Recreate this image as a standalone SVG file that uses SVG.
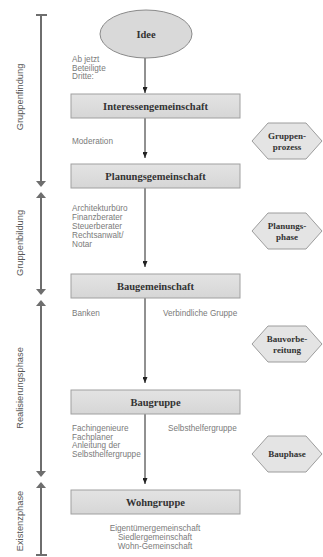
<svg xmlns="http://www.w3.org/2000/svg" width="323" height="557" viewBox="0 0 323 557">
<defs>
<style>
.box{fill:url(#bg);stroke:#a0a0a0;stroke-width:1}
.hex{fill:#e4e4e4;stroke:#9c9c9c;stroke-width:1}
.bt{font-family:"Liberation Serif",serif;font-weight:bold;font-size:10.5px;fill:#333;text-anchor:middle}
.ht{font-family:"Liberation Serif",serif;font-weight:bold;font-size:9px;fill:#333;text-anchor:middle}
.st{font-family:"Liberation Sans",sans-serif;font-size:8.2px;fill:#7a7a7a}
.ax{font-family:"Liberation Sans",sans-serif;font-size:9.3px;fill:#555;text-anchor:middle}
.axl{stroke:#6e6e6e;stroke-width:2;fill:none}
.ah{fill:#6e6e6e}
.con{stroke:#222;stroke-width:1;fill:none;marker-end:url(#arr)}
</style>
<linearGradient id="bg" x1="0" y1="0" x2="0" y2="1">
<stop offset="0" stop-color="#e3e3e3"/>
<stop offset="1" stop-color="#d6d6d6"/>
</linearGradient>
<marker id="arr" viewBox="0 0 6 5" refX="6" refY="2.5" markerWidth="6" markerHeight="5" markerUnits="userSpaceOnUse" orient="auto">
<path d="M0,0 L6,2.5 L0,5 z" fill="#222"/>
</marker>
<polygon id="ad" points="-5,-6 5,-6 0,0"/>
<polygon id="au" points="-5,6 5,6 0,0"/>
</defs>
<rect width="323" height="557" fill="#fff"/>

<g id="axes">
<path class="axl" d="M36,15 H47 M41,15 V183"/>
<use href="#ad" class="ah" x="41" y="187"/>
<path class="axl" d="M41,196 V291"/>
<use href="#au" class="ah" x="41" y="192"/>
<use href="#ad" class="ah" x="41" y="295"/>
<path class="axl" d="M41,304 V473"/>
<use href="#au" class="ah" x="41" y="300"/>
<use href="#ad" class="ah" x="41" y="477"/>
<path class="axl" d="M41,486 V555 M36,555 H47"/>
<use href="#au" class="ah" x="41" y="482"/>
<text class="ax" transform="translate(23,97) rotate(-90)">Gruppenfindung</text>
<text class="ax" transform="translate(23,243) rotate(-90)">Gruppenbildung</text>
<text class="ax" transform="translate(23,388) rotate(-90)">Realisierungsphase</text>
<text class="ax" transform="translate(23,521) rotate(-90)">Existenzphase</text>
</g>

<g id="connectors">
<line class="con" x1="145" y1="58" x2="145" y2="93"/>
<line class="con" x1="145" y1="118" x2="145" y2="158"/>
<line class="con" x1="145" y1="188" x2="145" y2="267"/>
<line class="con" x1="145" y1="298" x2="145" y2="383"/>
<line class="con" x1="145" y1="414" x2="145" y2="484"/>
</g>

<g id="idee">
<ellipse cx="146" cy="34" rx="46" ry="24" fill="#d9d9d9" stroke="#8a8a8a" stroke-width="1"/>
<text class="bt" x="146" y="38">Idee</text>
</g>
<g id="interessengemeinschaft">
<rect class="box" x="71" y="94" width="169" height="24"/>
<text class="bt" x="155.5" y="110">Interessengemeinschaft</text>
</g>
<g id="planungsgemeinschaft">
<rect class="box" x="71" y="164" width="169" height="24"/>
<text class="bt" x="155.5" y="180">Planungsgemeinschaft</text>
</g>
<g id="baugemeinschaft">
<rect class="box" x="71" y="274" width="169" height="24"/>
<text class="bt" x="155.5" y="290">Baugemeinschaft</text>
</g>
<g id="baugruppe">
<rect class="box" x="71" y="390" width="169" height="24"/>
<text class="bt" x="155.5" y="406">Baugruppe</text>
</g>
<g id="wohngruppe">
<rect class="box" x="71" y="490" width="169" height="24"/>
<text class="bt" x="155.5" y="506">Wohngruppe</text>
</g>

<g id="gruppenprozess">
<polygon class="hex" points="252,141 268,123 306,123 322,141 306,159 268,159"/>
<text class="ht" x="287" y="139">Gruppen-</text>
<text class="ht" x="287" y="150">prozess</text>
</g>
<g id="planungsphase">
<polygon class="hex" points="252,231 268,213 306,213 322,231 306,249 268,249"/>
<text class="ht" x="287" y="229">Planungs-</text>
<text class="ht" x="287" y="240">phase</text>
</g>
<g id="bauvorbereitung">
<polygon class="hex" points="252,344 268,326 306,326 322,344 306,362 268,362"/>
<text class="ht" x="287" y="342">Bauvorbe-</text>
<text class="ht" x="287" y="353">reitung</text>
</g>
<g id="bauphase">
<polygon class="hex" points="252,454 268,436 306,436 322,454 306,472 268,472"/>
<text class="ht" x="287" y="457">Bauphase</text>
</g>

<g id="labels">
<text class="st" x="72" y="62">Ab jetzt</text>
<text class="st" x="72" y="70.7">Beteiligte</text>
<text class="st" x="72" y="79.4">Dritte:</text>
<text class="st" x="72" y="143.5">Moderation</text>
<text class="st" x="72" y="210.5">Architekturbüro</text>
<text class="st" x="72" y="219.6">Finanzberater</text>
<text class="st" x="72" y="228.7">Steuerberater</text>
<text class="st" x="72" y="237.8">Rechtsanwalt/</text>
<text class="st" x="72" y="247">Notar</text>
<text class="st" x="72" y="316">Banken</text>
<text class="st" x="163" y="316">Verbindliche Gruppe</text>
<text class="st" x="72" y="431">Fachingenieure</text>
<text class="st" x="72" y="439.5">Fachplaner</text>
<text class="st" x="72" y="448">Anleitung der</text>
<text class="st" x="72" y="456.5">Selbsthelfergruppe</text>
<text class="st" x="168" y="431">Selbsthelfergruppe</text>
<text class="st" x="155" y="530.5" text-anchor="middle">Eigentümergemeinschaft</text>
<text class="st" x="155" y="539.5" text-anchor="middle">Siedlergemeinschaft</text>
<text class="st" x="155" y="548.5" text-anchor="middle">Wohn-Gemeinschaft</text>
</g>
</svg>
